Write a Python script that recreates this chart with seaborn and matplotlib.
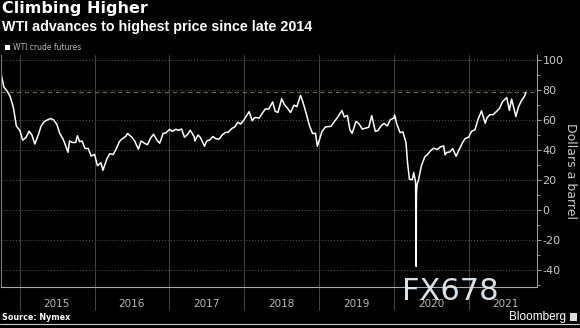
import matplotlib
matplotlib.use("Agg")
import matplotlib.pyplot as plt
import matplotlib.dates as mdates
from matplotlib.patches import Rectangle
from matplotlib.lines import Line2D
import matplotlib.transforms as mtransforms
import seaborn as sns
import pandas as pd

# ---------------- data ----------------
dates = [
    "2014-10-01", "2014-10-15", "2014-11-01", "2014-11-15", "2014-12-01", "2014-12-15",
    "2015-01-01", "2015-01-15", "2015-02-01", "2015-02-15", "2015-03-01", "2015-03-15",
    "2015-04-01", "2015-04-15", "2015-05-01", "2015-05-15", "2015-06-01", "2015-06-15",
    "2015-07-01", "2015-07-15", "2015-08-01", "2015-08-15", "2015-08-24", "2015-09-01",
    "2015-09-15", "2015-10-01", "2015-10-09", "2015-10-20", "2015-11-01", "2015-11-15",
    "2015-12-01", "2015-12-15",
    "2016-01-01", "2016-01-15", "2016-02-01", "2016-02-11", "2016-03-01", "2016-03-15",
    "2016-04-01", "2016-04-15", "2016-05-01", "2016-05-15", "2016-06-01", "2016-06-10",
    "2016-07-01", "2016-07-15", "2016-08-02", "2016-08-15", "2016-09-01", "2016-09-15",
    "2016-10-01", "2016-10-15", "2016-11-01", "2016-11-14", "2016-12-01", "2016-12-15",
    "2017-01-01", "2017-01-15", "2017-02-01", "2017-02-15", "2017-03-01", "2017-03-15",
    "2017-04-01", "2017-04-12", "2017-05-01", "2017-05-05", "2017-05-20", "2017-06-01",
    "2017-06-21", "2017-07-01", "2017-07-15", "2017-08-01", "2017-08-15", "2017-09-01",
    "2017-09-15", "2017-10-01", "2017-10-15", "2017-11-01", "2017-11-15", "2017-12-01",
    "2017-12-15",
    "2018-01-01", "2018-01-25", "2018-02-09", "2018-02-20", "2018-03-01", "2018-03-15",
    "2018-04-01", "2018-04-15", "2018-05-01", "2018-05-20", "2018-06-01", "2018-06-15",
    "2018-07-03", "2018-07-15", "2018-08-01", "2018-08-15", "2018-09-01", "2018-09-15",
    "2018-10-03", "2018-10-15", "2018-11-01", "2018-11-15", "2018-12-01", "2018-12-15",
    "2018-12-24",
    "2019-01-05", "2019-01-15", "2019-02-01", "2019-02-15", "2019-03-01", "2019-03-15",
    "2019-04-01", "2019-04-23", "2019-05-05", "2019-05-20", "2019-06-01", "2019-06-12",
    "2019-07-01", "2019-07-15", "2019-08-01", "2019-08-15", "2019-09-01", "2019-09-16",
    "2019-10-03", "2019-10-15", "2019-11-01", "2019-11-15", "2019-12-01", "2019-12-15",
    "2020-01-01", "2020-01-06", "2020-01-15", "2020-02-01", "2020-02-15", "2020-03-01",
    "2020-03-09", "2020-03-18", "2020-04-01", "2020-04-08", "2020-04-17", "2020-04-20",
    "2020-04-21", "2020-04-24", "2020-05-01", "2020-05-15", "2020-06-01", "2020-06-15",
    "2020-07-01", "2020-07-15", "2020-08-01", "2020-08-15", "2020-09-01", "2020-09-08",
    "2020-09-15", "2020-10-01", "2020-10-15", "2020-11-01", "2020-11-15", "2020-12-01",
    "2020-12-15",
    "2021-01-01", "2021-01-15", "2021-02-01", "2021-02-15", "2021-03-05", "2021-03-23",
    "2021-04-01", "2021-04-15", "2021-05-01", "2021-05-15", "2021-06-01", "2021-06-15",
    "2021-07-06", "2021-07-19", "2021-07-30", "2021-08-20", "2021-09-01", "2021-09-15",
    "2021-10-01", "2021-10-08",
]
prices = [
    91.0, 82.0, 79.0, 75.5, 68.0, 56.0,
    53.0, 46.5, 48.5, 52.5, 50.0, 44.0,
    50.0, 56.0, 59.0, 60.0, 61.0, 60.0,
    57.0, 51.0, 47.0, 42.0, 38.5, 46.0,
    45.0, 45.0, 49.5, 45.5, 46.0, 41.0,
    41.0, 36.0,
    37.0, 29.5, 31.5, 26.5, 34.0, 37.5,
    37.0, 40.5, 45.5, 47.5, 49.0, 51.0,
    48.5, 46.0, 40.5, 46.0, 44.5, 43.5,
    48.0, 50.5, 46.5, 44.5, 51.0, 51.5,
    53.7, 52.4, 53.8, 53.1, 54.0, 48.5,
    50.6, 53.2, 49.0, 46.0, 50.0, 48.3,
    42.5, 46.0, 46.5, 49.0, 47.5, 47.3,
    50.0, 51.7, 51.8, 54.3, 55.3, 58.4,
    57.3,
    60.4, 65.5, 59.5, 61.5, 61.6, 61.2,
    64.9, 67.4, 67.3, 72.0, 65.8, 65.0,
    74.2, 70.5, 67.7, 65.0, 69.8, 68.9,
    76.4, 71.8, 63.7, 56.5, 50.9, 51.2,
    42.5,
    47.5, 52.1, 55.3, 55.6, 55.8, 58.5,
    61.6, 66.3, 62.0, 63.0, 53.5, 51.1,
    59.1, 57.6, 53.9, 54.5, 55.1, 62.9,
    52.5, 52.8, 56.2, 57.7, 56.0, 60.1,
    61.2, 63.3, 57.8, 51.6, 52.0, 45.0,
    31.1, 20.4, 20.3, 25.0, 18.3, -37.6,
    10.0, 17.0, 19.8, 29.4, 35.4, 37.1,
    39.8, 41.2, 40.3, 42.0, 42.8, 36.8,
    38.3, 38.7, 40.9, 35.8, 40.1, 44.6,
    47.6,
    48.5, 52.4, 53.5, 60.0, 66.1, 57.8,
    61.5, 63.5, 63.6, 65.4, 67.7, 72.1,
    75.0, 66.4, 73.9, 62.3, 68.6, 72.6,
    75.9, 78.5,
]
year_labels = ["2015", "2016", "2017", "2018", "2019", "2020", "2021"]
y_ticks = [-40, -20, 0, 20, 40, 60, 80, 100]
latest_level = 78.5

df = pd.DataFrame({"date": pd.to_datetime(dates), "price": prices})

# ---------------- style ----------------
sns.set_theme(style="dark")
plt.rcParams["font.family"] = ["DejaVu Sans"]
plt.rcParams["axes.unicode_minus"] = False

BG = "black"
GRID = "#5a5a5a"
TXT = "#c8c8c8"

fig = plt.figure(figsize=(5.8, 3.28), dpi=100, facecolor=BG)
ax = fig.add_axes([1 / 580, 41 / 328, 536 / 580, 232 / 328])
ax.set_facecolor(BG)

sns.lineplot(data=df, x="date", y="price", ax=ax, color="white", linewidth=1.1)

ax.set_xlim(pd.Timestamp("2014-10-01"), pd.Timestamp("2021-12-01"))
ax.set_ylim(-51.3, 103.3)

# latest level dashed line
ax.axhline(latest_level, color="#6e6e2e", linestyle=(0, (4, 3)), linewidth=0.8, zorder=1)

# horizontal grid
for t in y_ticks:
    ax.axhline(t, color=GRID, linestyle=(0, (1, 2)), linewidth=0.7, zorder=0)

# year separators (extend below the axis)
trans = mtransforms.blended_transform_factory(ax.transData, ax.transAxes)
for yl in year_labels:
    xd = mdates.date2num(pd.Timestamp(f"{yl}-01-01"))
    ax.plot([xd, xd], [-0.1, 1.0], transform=trans, color="#444444",
            linewidth=0.7, clip_on=False, zorder=0)
    ax.text(mdates.date2num(pd.Timestamp(f"{yl}-07-01")), -0.075, yl, transform=trans,
            ha="center", va="center", color="#b8b8b8", fontsize=7.5)

# axes / spines
ax.spines["top"].set_visible(False)
ax.spines["left"].set_color("#777777")
ax.spines["left"].set_linewidth(0.8)
ax.spines["right"].set_color("#9a9a9a")
ax.spines["right"].set_linewidth(0.8)
ax.spines["bottom"].set_color("#aaaaaa")
ax.spines["bottom"].set_linewidth(0.8)

ax.yaxis.tick_right()
ax.yaxis.set_label_position("right")
ax.set_yticks(y_ticks)
ax.set_yticks(list(range(-50, 101, 10)), minor=True)
ax.tick_params(axis="y", which="major", direction="out", length=3, width=0.8,
               color="#9a9a9a", labelcolor=TXT, labelsize=8, pad=1)
ax.tick_params(axis="y", which="minor", direction="out", length=2, width=0.6,
               color="#9a9a9a")
ax.set_ylabel("Dollars a barrel", rotation=270, color=TXT, fontsize=9, labelpad=10)

ax.xaxis.set_major_locator(mdates.YearLocator())
ax.xaxis.set_minor_locator(mdates.MonthLocator(bymonth=[4, 7, 10]))
ax.tick_params(axis="x", which="both", direction="in", length=2, width=0.7,
               color="#aaaaaa", labelbottom=False)
ax.set_xlabel("")
ax.grid(False)

# ---------------- texts ----------------
fig.text(2 / 580, 1 - 1 / 328, "Climbing Higher", color="white", fontsize=11.5,
         fontweight="bold", ha="left", va="top")
fig.text(2 / 580, 1 - 20 / 328, "WTI advances to highest price since late 2014",
         color="white", fontsize=10.3, fontweight="bold", ha="left", va="top",
         family="Liberation Sans")
fig.add_artist(Rectangle((5 / 580, 1 - 50 / 328), 5 / 580, 5 / 328,
                         transform=fig.transFigure, facecolor="white", edgecolor="none"))
fig.text(13 / 580, 1 - 47.5 / 328, "WTI crude futures", color="#bbbbbb",
         fontsize=5.5, ha="left", va="center")
fig.text(2 / 580, 1 - 317 / 328, "Source: Nymex", color="white", fontsize=5.8,
         fontweight="bold", ha="left", va="center")
fig.text(566 / 580, 1 - 317 / 328, "Bloomberg", color="white", fontsize=8.5,
         ha="right", va="center", family="Liberation Sans")
fig.add_artist(Rectangle((570 / 580, 1 - 321 / 328), 7 / 580, 8 / 328,
                         transform=fig.transFigure, facecolor="#dddddd", edgecolor="none"))
fig.add_artist(Line2D([0, 1], [1 - 324 / 328, 1 - 324 / 328], transform=fig.transFigure,
                      color="#cccccc", linewidth=0.8))
fig.text(450 / 580, 1 - 292 / 328, "FX678", color="#e4edf5", fontsize=22,
         ha="center", va="center", alpha=0.95)

fig.savefig("out.png", dpi=100, facecolor=BG)
